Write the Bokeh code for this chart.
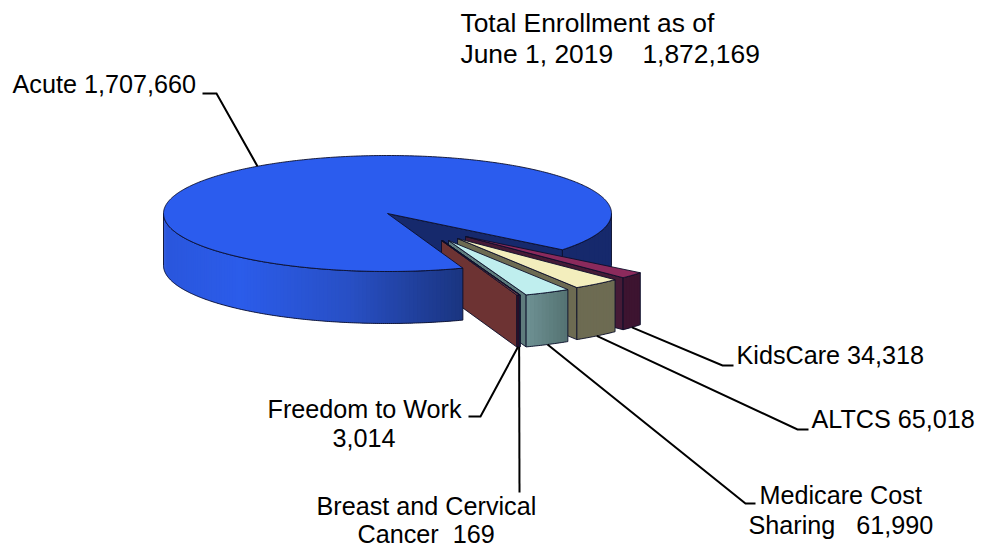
import math
from bokeh.plotting import figure
from bokeh.models import ColumnDataSource
from bokeh.core.properties import value
from bokeh.embed import file_html
from bokeh.resources import INLINE

# ---- data ----
slice_names = ["Acute", "KidsCare", "ALTCS", "Medicare Cost Sharing", "Breast and Cervical Cancer", "Freedom to Work"]
enrollment = [1707660, 34318, 65018, 61990, 169, 3014]
total_enrollment = 1872169
NB = "\u00a0"
label_lines = [
    ["Acute 1,707,660"],
    ["KidsCare 34,318"],
    ["ALTCS 65,018"],
    ["Medicare Cost", "Sharing" + NB * 3 + "61,990"],
    ["Breast and Cervical", "Cancer" + NB * 2 + "169"],
    ["Freedom to Work", "3,014"],
]
title_lines = ["Total Enrollment as of", "June 1, 2019" + NB * 4 + "1,872,169"]

# ---- geometry / layout (pixel-like coordinate system of the figure) ----
CX, CY, RX, RY, DEPTH = 387.0, 213.0, 224.0, 58.0, 52.0
START = 38.7                          # where KidsCare begins, degrees on the ellipse
explode = {1: (78, 23), 2: (70, 25), 3: (61, 27), 4: (55, 27), 5: (54, 27)}
OUT = "#0b0f2a"
TEXT_SHIFT = 9                        # the page draws these texts this far under their anchor

p = figure(width=982, height=546, x_range=(0, 982), y_range=(546, 0),
           output_backend="svg", toolbar_location=None, min_border=0,
           outline_line_color=None, background_fill_color="white", border_fill_color="white")
p.axis.visible = False
p.grid.visible = False


def pt(t, ox=0.0, oy=0.0, dz=0.0):
    a = math.radians(t)
    return CX + ox + RX * math.cos(a), CY + oy + RY * math.sin(a) + dz


def arc(t0, t1, ox=0.0, oy=0.0, dz=0.0, n=None):
    n = n or max(2, int(abs(t1 - t0) / 0.5) + 2)
    pts = [pt(t0 + (t1 - t0) * i / (n - 1), ox, oy, dz) for i in range(n)]
    return [q[0] for q in pts], [q[1] for q in pts]


def poly(xs, ys, fill, line=OUT, w=0.9):
    p.patch(xs, ys, fill_color=fill, line_color=line, line_width=w, line_join="round")


def mix(c0, c1, f):
    a = [int(c0[i:i + 2], 16) for i in (1, 3, 5)]
    b = [int(c1[i:i + 2], 16) for i in (1, 3, 5)]
    return "#%02x%02x%02x" % tuple(round(a[i] + (b[i] - a[i]) * f) for i in range(3))


def ramp(stops, x):
    for (x0, c0), (x1, c1) in zip(stops, stops[1:]):
        if x <= x1:
            return mix(c0, c1, max(0.0, (x - x0) / (x1 - x0)))
    return stops[-1][1]


def rim(t0, t1, ox, oy, stops, step=1.0):
    """outer wall between two ellipse angles, as overlapping colour strips, then its outline"""
    n = max(1, int(abs(t1 - t0) / step))
    xs, ys, cs = [], [], []
    for i in range(n):
        a = t0 + (t1 - t0) * i / n
        b = t0 + (t1 - t0) * min(i + 2, n) / n   # each strip runs under the next one
        ax, ay = arc(a, b, ox, oy, n=4)
        bx, by = arc(b, a, ox, oy, DEPTH, n=4)
        xs.append(ax + bx)
        ys.append(ay + by)
        mid = pt(t0 + (t1 - t0) * (i + 0.5) / n, ox, oy)[0]
        cs.append(ramp(stops, mid))
    p.patches(xs="x", ys="y", fill_color="c", line_color=None,
              source=ColumnDataSource(dict(x=xs, y=ys, c=cs)))
    ax, ay = arc(t0, t1, ox, oy)
    bx, by = arc(t1, t0, ox, oy, DEPTH)
    poly(ax + bx, ay + by, None, OUT, 0.9)


total = float(sum(enrollment))
sweep = [v / total * 360.0 for v in enrollment]

# slice angle spans, clockwise on screen from START
spans = {}
t = START
for i in range(1, len(enrollment)):
    spans[i] = (t, t + sweep[i])
    t += sweep[i]
main_t0 = t
main_t1 = START + 360.0

# right-hand outer wall and the inner wall of the big slice
rim(0.0, START, 0, 0, [(0, "#16296c"), (1000, "#16296c")], 3.0)
ex, ey = pt(START)
poly([CX, ex, ex, CX], [CY, ey, ey + DEPTH, CY + DEPTH], "#16296c")

styles = {
    1: dict(top="#8b2a5c", face="#451a36", rim=[(0, "#3d1430"), (1000, "#3d1430")]),
    2: dict(top="#f3eebd", face="#6d6b52", rim=[(0, "#6d6b52"), (1000, "#6d6b52")]),
    3: dict(top="#bfeeee", face="#5f7c7d", rim=[(520, "#729698"), (570, "#527070")]),
    4: dict(top="#6f8f8f", face="#5f7c7d", rim=[(0, "#5f7c7d"), (1000, "#5f7c7d")]),
    5: dict(top="#9c4a4a", face="#6d3333", rim=[(0, "#3a1028"), (1000, "#3a1028")]),
}
for i in range(1, len(enrollment)):
    t0, t1 = spans[i]
    ox, oy = explode[i]
    st = styles[i]
    ax, ay = CX + ox, CY + oy
    bx, by = pt(t1, ox, oy)
    poly([ax, bx, bx, ax], [ay, by, by + DEPTH, ay + DEPTH], st["face"])
    rim(t0, t1, ox, oy, st["rim"])
    tx, ty = arc(t0, t1, ox, oy)
    poly([ax] + tx, [ay] + ty, st["top"])

# big slice: front wall then top
front = [(164, "#2a56dc"), (240, "#2b5cea"), (350, "#284fc4"), (465, "#1a347e")]
rim(main_t0, 180.0, 0, 0, front, 1.0)
tx, ty = arc(main_t0, main_t1, n=500)
poly([CX] + tx, [CY] + ty, "#2b5cee")

# leader lines: begin on the slice's rim, then run to the layout's elbow and end
elbows = {
    0: [(216, 93), (202, 93)],
    1: [(722, 365), (733, 365)],
    2: [(797, 429), (808, 429)],
    3: [(745, 503), (755, 503)],
    4: [(519, 492)],
    5: [(480, 416), (468, 416)],
}
for i, path in elbows.items():
    if i == 0:
        sx, sy = pt(main_t0 + (main_t1 - main_t0) / 2.0)
    elif i == 4:
        ox, oy = explode[5]
        sx, sy = pt(spans[i][0], ox, oy, DEPTH)
    else:
        ox, oy = explode[i]
        sx, sy = pt(sum(spans[i]) / 2.0, ox, oy, DEPTH)
    p.line([sx] + [q[0] for q in path], [sy] + [q[1] for q in path],
           line_color="black", line_width=2, line_join="miter")

# texts
text_pos = [
    [(12, 92)],
    [(736, 363)],
    [(811, 427)],
    [(759, 503), (748, 533)],
    [(316, 514), (357, 542)],
    [(267, 417), (332, 446)],
]
tx_, ty_, tt_ = [], [], []
for lines, pos in zip(label_lines, text_pos):
    for s, (x, y) in zip(lines, pos):
        tx_.append(x); ty_.append(y - TEXT_SHIFT); tt_.append(s)
p.text(x="x", y="y", text="t", source=ColumnDataSource(dict(x=tx_, y=ty_, t=tt_)),
       text_font=value("Liberation Sans"), text_font_size=value("25.2px"),
       text_color="black", text_align="left", text_baseline="alphabetic")
p.text(x=[460, 460], y=[31 - TEXT_SHIFT, 62 - TEXT_SHIFT], text=title_lines,
       text_font=value("Liberation Sans"), text_font_size=value("26.4px"),
       text_color="black", text_align="left", text_baseline="alphabetic")

open("out.html", "w").write(file_html(p, INLINE))
